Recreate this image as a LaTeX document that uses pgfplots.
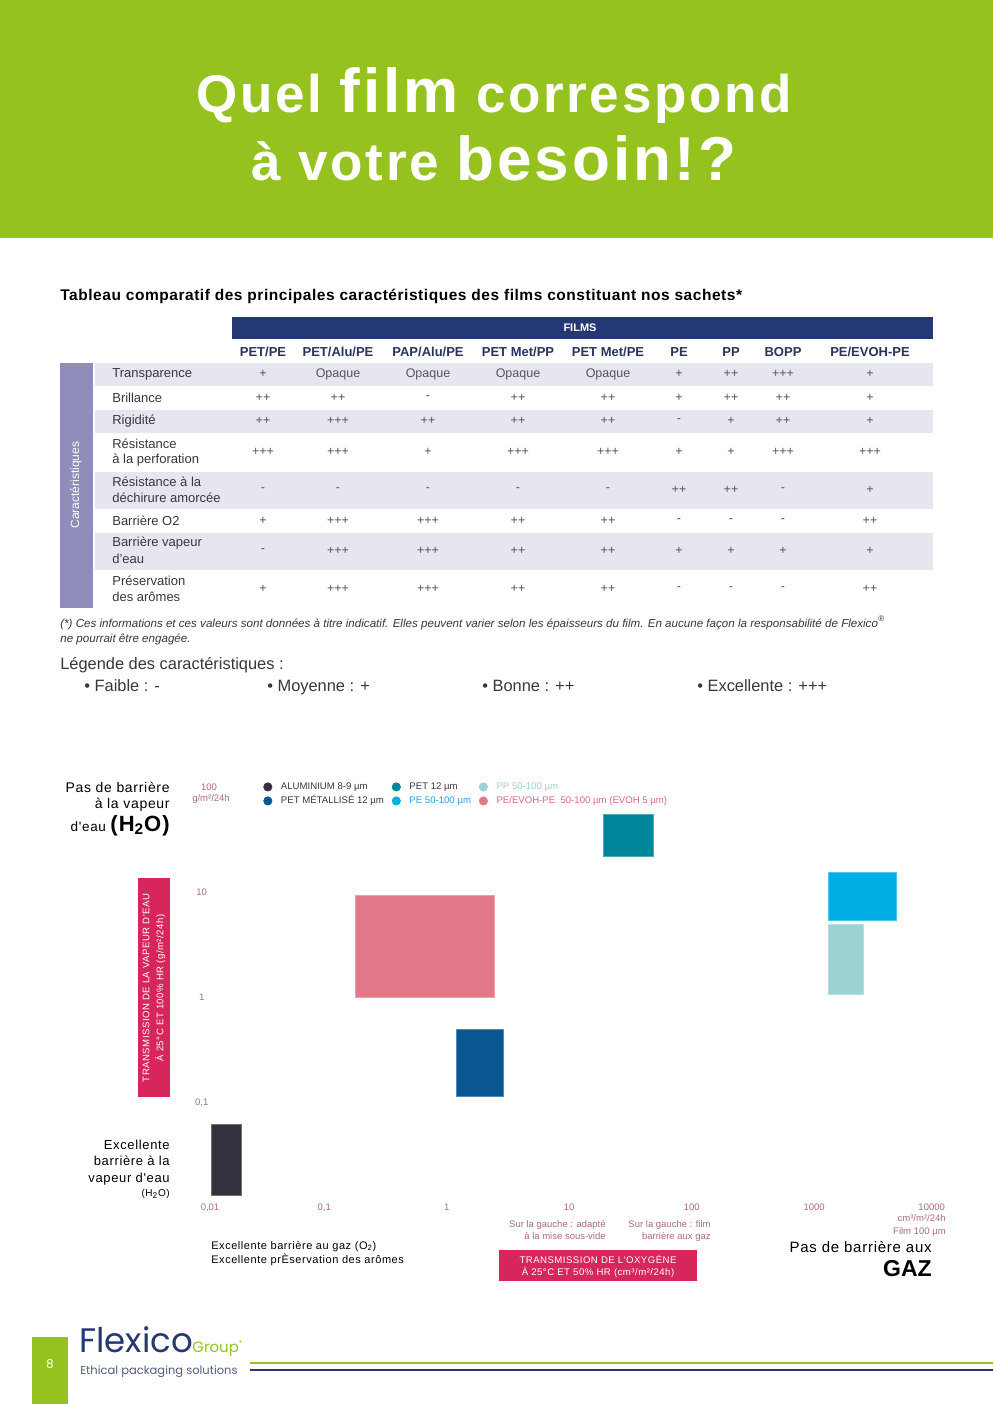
\documentclass[border=0pt]{standalone}
\usepackage{fontspec}
\setmainfont{Liberation Sans}
\newfontfamily\tfont[LetterSpace=5]{Liberation Sans}
\newfontfamily\sfont[LetterSpace=5]{Liberation Sans}
\newfontfamily\hfont[LetterSpace=3.5]{Liberation Sans}
\newfontfamily\pop{Poppins}
\usepackage{pgfplots}
\pgfplotsset{compat=1.18}
\newcommand\fs[1]{\fontsize{\fpeval{#1*0.6}pt}{\fpeval{#1*0.72}pt}\selectfont}
\definecolor{hgreen}{RGB}{150,194,31}
\definecolor{navy}{RGB}{36,56,115}
\definecolor{navyt}{RGB}{40,52,95}
\definecolor{stripe}{RGB}{230,230,238}
\definecolor{lbar}{RGB}{143,141,185}
\definecolor{pinkc}{RGB}{215,38,92}
\definecolor{tickc}{RGB}{168,108,135}
\definecolor{valc}{RGB}{85,85,90}
\definecolor{alu}{RGB}{52,49,63}
\definecolor{petmet}{RGB}{11,87,146}
\definecolor{pet}{RGB}{0,134,155}
\definecolor{pe}{RGB}{0,174,228}
\definecolor{pp}{RGB}{155,210,212}
\definecolor{evoh}{RGB}{226,121,137}
\definecolor{petxt}{RGB}{40,160,215}
\definecolor{evohtxt}{RGB}{215,105,135}
\definecolor{dtext}{RGB}{55,55,65}
\newcommand\rowvals[2]{%
  \foreach \v [count=\i] in {#2} {%
    \pgfmathparse{{263,338,428,518,608,679,731,783,870}[\i-1]}%
    \node[text=valc, inner sep=0] at (\pgfmathresult,#1) {\fs{12.5}\v};}}
\begin{document}
\begin{tikzpicture}
\begin{scope}[x=0.6pt,y=-0.6pt]
\path[use as bounding box, fill=white] (0,0) rectangle (993,1404);
% header
\fill[hgreen] (0,0) rectangle (993,238);
\node[anchor=base, text=white, inner sep=0] at (494,113) {\tfont\bfseries\fs{53}Quel {\fs{62}film} correspond};
\node[anchor=base, text=white, inner sep=0] at (494,180) {\tfont\bfseries\fs{53}à votre {\fs{62}besoin!?}};
% table
\node[anchor=base west, inner sep=0] at (60,300) {\hfont\fs{15.5}\bfseries Tableau comparatif des principales caractéristiques des films constituant nos sachets*};
\fill[navy] (232,317) rectangle (933,339);
\node[text=white, inner sep=0] at (580,328) {\fs{11}\bfseries FILMS};
\foreach \x/\t in {263/PET\slash PE,338/PET\slash Alu\slash PE,428/PAP\slash Alu\slash PE,518/PET Met\slash PP,608/PET Met\slash PE,679/PE,731/PP,783/BOPP,870/PE\slash EVOH-PE}
  \node[anchor=base, text=navyt, inner sep=0] at (\x,356) {\fs{13}\bfseries \t};
\foreach \a/\b in {363/386,410/433,472/509,533/570}
  \fill[stripe] (95,\a) rectangle (933,\b);
\fill[lbar] (60,363) rectangle (93,608);
\node[rotate=90, text=white, inner sep=0] at (76,485) {\fs{12}Caractéristiques};
\foreach \y/\t in {374/Transparence,398/Brillance,421/Rigidité,444/Résistance,460/à la perforation,482/Résistance à la,498/déchirure amorcée,521/Barrière O2,543/Barrière vapeur,559/d'eau,581/Préservation,597/des arômes}
  \node[anchor=west, text=dtext, inner sep=0] at (112,\y) {\fs{13}\t};
\rowvals{374}{+,Opaque,Opaque,Opaque,Opaque,+,++,+++,+}
\rowvals{398}{++,++,-,++,++,+,++,++,+}
\rowvals{421}{++,+++,++,++,++,-,+,++,+}
\rowvals{452}{+++,+++,+,+++,+++,+,+,+++,+++}
\rowvals{490}{-,-,-,-,-,++,++,-,+}
\rowvals{521}{+,+++,+++,++,++,-,-,-,++}
\rowvals{551}{-,+++,+++,++,++,+,+,+,+}
\rowvals{589}{+,+++,+++,++,++,-,-,-,++}
\node[anchor=base west, inner sep=0, text=dtext] at (60,627) {\fs{11.6}\itshape (*) Ces informations et ces valeurs sont données à titre indicatif. Elles peuvent varier selon les épaisseurs du film. En aucune façon la responsabilité de Flexico\textsuperscript{®}};
\node[anchor=base west, inner sep=0, text=dtext] at (60,642) {\fs{11.6}\itshape ne pourrait être engagée.};
\node[anchor=base west, inner sep=0, text=dtext] at (60,669) {\fs{16.4}Légende des caractéristiques :};
\foreach \x/\t in {84/Faible : -,267/Moyenne : +,482/Bonne : ++,697/Excellente : +++}
  \node[anchor=base west, inner sep=0, text=dtext] at (\x,691) {\fs{16.4}• \t};
% chart labels
\node[anchor=base east, inner sep=0] at (170,792) {\sfont\fs{14}Pas de barrière};
\node[anchor=base east, inner sep=0] at (170,808) {\sfont\fs{14}à la vapeur};
\node[anchor=base east, inner sep=0] at (170,831) {\sfont\fs{13.5}d'eau {\bfseries\fs{22}(H\textsubscript{2}O)}};
\node[text=tickc, inner sep=0] at (209,787) {\fs{9.5}100};
\node[text=tickc, inner sep=0] at (211,799) {\fs{9.5}g/m²/24h};
\fill[pinkc] (138,878) rectangle (170,1097);
\node[rotate=90, text=white, align=center, inner sep=0, font={\sfont\fs{9.6}}] at (154,988) {TRANSMISSION DE LA VAPEUR D'EAU\\[1.5pt]À 25°C ET 100\% HR (g/m²/24h)};
\foreach \y/\t in {1149/Excellente,1165/barrière à la,1182/vapeur d'eau}
  \node[anchor=base east, inner sep=0] at (170,\y) {\sfont\fs{13}\t};
\node[anchor=base east, inner sep=0] at (170,1196) {\sfont\fs{10}(H\textsubscript{2}O)};
\node[anchor=base east, inner sep=0, text=tickc] at (606,1227) {\fs{9.5}Sur la gauche : adapté};
\node[anchor=base east, inner sep=0, text=tickc] at (606,1239) {\fs{9.5}à la mise sous-vide};
\node[anchor=base east, inner sep=0, text=tickc] at (711,1227) {\fs{9.5}Sur la gauche : film};
\node[anchor=base east, inner sep=0, text=tickc] at (711,1239) {\fs{9.5}barrière aux gaz};
\node[anchor=base east, inner sep=0, text=tickc] at (946,1221) {\fs{9.5}cm³/m²/24h};
\node[anchor=base east, inner sep=0, text=tickc] at (946,1234) {\fs{9.5}Film 100 µm};
\node[anchor=base west, inner sep=0] at (211,1249) {\sfont\fs{11}Excellente barrière au gaz (O\textsubscript{2})};
\node[anchor=base west, inner sep=0] at (211,1263) {\sfont\fs{11}Excellente prÈservation des arômes};
\fill[pinkc] (499,1250) rectangle (697,1281);
\node[text=white, align=center, inner sep=0, font={\sfont\fs{9.6}}] at (598,1266) {TRANSMISSION DE L'OXYGÈNE\\[0.5pt]À 25°C ET 50\% HR (cm³/m²/24h)};
\node[anchor=base east, inner sep=0] at (932,1252) {\sfont\fs{15}Pas de barrière aux};
\node[anchor=base east, inner sep=0] at (932,1276) {\fs{23}\bfseries GAZ};
% footer
\fill[hgreen] (32,1337) rectangle (68,1404);
\node[text=white, inner sep=0] at (50,1364) {\fs{13}8};
\draw[hgreen, line width=1pt] (250,1363) -- (993,1363);
\draw[navy, line width=1pt] (250,1370) -- (993,1370);
\node[anchor=base west, inner sep=0, text=navy] at (79,1352) {\pop\fs{34}Flexico};
\node[anchor=base west, inner sep=0, text=hgreen] at (192,1352) {\pop\fs{15}Group\textsuperscript{\fs{7}®}};
\node[anchor=base west, inner sep=0, text=navyt!80] at (80,1374) {\pop\fs{11.5}Ethical packaging solutions};
\end{scope}
\begin{axis}[
  at={(121.02pt,-724.38pt)}, anchor=south west,
  scale only axis, width=441pt, height=252pt,
  xmode=log, ymode=log,
  xmin=0.01, xmax=10000, ymin=0.01, ymax=100,
  axis line style={draw=none},
  major tick length=0pt, minor tick length=0pt,
  xtick={0.01,0.1,1,10,100,1000,10000},
  xticklabels={{\hspace{10pt}0,01},{0,1},1,10,100,1000,{10000\kern6pt\null}},
  ytick={0.1,1,10},
  yticklabels={{0,1},1,10},
  xticklabel style={anchor=center, text=tickc, font=\fs{9.5}},
  yticklabel style={anchor=center, text=tickc, font=\fs{9.5}},
  clip=false,
  legend columns=3,
  legend cell align=left,
  legend image code/.code={\fill[#1] (0pt,0pt) circle (2.5pt);},
  legend style={at={(0.0834,1.0174)}, anchor=north west, draw=none, fill=none, inner sep=0pt,
    font=\fs{9.6}, row sep=0pt, nodes={inner sep=1.2pt},
    /tikz/every odd column/.append style={column sep=4pt},
    /tikz/every even column/.append style={column sep=3.5pt}},
]
\addlegendimage{color=alu}
\addlegendentry[text=dtext]{ALUMINIUM 8-9 µm}
\addlegendimage{color=pet}
\addlegendentry[text=dtext]{PET 12 µm}
\addlegendimage{color=pp}
\addlegendentry[text=pp]{PP 50-100 µm}
\addlegendimage{color=petmet}
\addlegendentry[text=dtext]{PET MÉTALLISÉ 12 µm}
\addlegendimage{color=pe}
\addlegendentry[text=petxt]{PE 50-100 µm}
\addlegendimage{color=evoh}
\addlegendentry[text=evohtxt]{PE/EVOH-PE\ \ 50-100 µm (EVOH 5 µm)}
% boxes
\addplot[forget plot, fill=alu, draw=alu!70!white, line width=0.5pt] coordinates {(0.0121,0.013) (0.0212,0.013) (0.0212,0.062) (0.0121,0.062)} -- cycle;
\addplot[forget plot, fill=petmet, draw=petmet!70!white, line width=0.5pt] coordinates {(1.19,0.115) (2.9,0.115) (2.9,0.5) (1.19,0.5)} -- cycle;
\addplot[forget plot, fill=evoh, draw=evoh!70!white, line width=0.5pt] coordinates {(0.18,1) (2.45,1) (2.45,9.3) (0.18,9.3)} -- cycle;
\addplot[forget plot, fill=pet, draw=pet!70!white, line width=0.5pt] coordinates {(19,22.2) (49,22.2) (49,54.8) (19,54.8)} -- cycle;
\addplot[forget plot, fill=pe, draw=pe!70!white, line width=0.5pt] coordinates {(1313,5.37) (4660,5.37) (4660,15.6) (1313,15.6)} -- cycle;
\addplot[forget plot, fill=pp, draw=pp!70!white, line width=0.5pt] coordinates {(1313,1.06) (2500,1.06) (2500,4.9) (1313,4.9)} -- cycle;
\end{axis}
\end{tikzpicture}
\end{document}
